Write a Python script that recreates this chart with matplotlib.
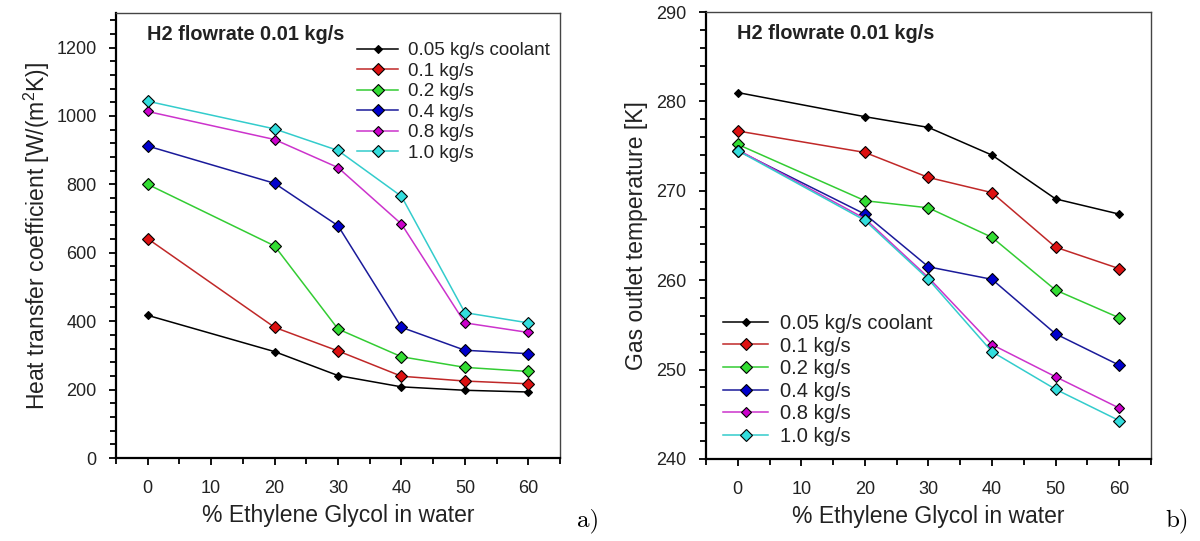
import matplotlib
matplotlib.use("Agg")
import matplotlib.pyplot as plt
from matplotlib.ticker import MultipleLocator

plt.rcParams["font.family"] = "Liberation Sans"
plt.rcParams["mathtext.fontset"] = "custom"
plt.rcParams["mathtext.rm"] = "Liberation Sans"
plt.rcParams["mathtext.it"] = "Liberation Sans:italic"
plt.rcParams["mathtext.bf"] = "Liberation Sans:bold"

# % ethylene glycol in the coolant
glycol = [0, 20, 30, 40, 50, 60]

flow_labels = ["0.05 kg/s coolant", "0.1 kg/s", "0.2 kg/s", "0.4 kg/s", "0.8 kg/s", "1.0 kg/s"]

# heat transfer coefficient, W/(m2 K)
htc_005 = [417, 311, 241, 208, 198, 193]
htc_01 = [641, 382, 313, 239, 225, 217]
htc_02 = [800, 620, 377, 296, 265, 253]
htc_04 = [912, 803, 679, 382, 315, 305]
htc_08 = [1013, 931, 849, 684, 395, 367]
htc_10 = [1043, 962, 899, 765, 425, 395]

# gas outlet temperature, K
tout_005 = [281.0, 278.3, 277.1, 274.0, 269.1, 267.4]
tout_01 = [276.7, 274.3, 271.5, 269.8, 263.7, 261.3]
tout_02 = [275.2, 268.9, 268.1, 264.8, 258.9, 255.8]
tout_04 = [274.5, 267.4, 261.5, 260.1, 254.0, 250.5]
tout_08 = [274.6, 266.9, 260.3, 252.8, 249.2, 245.7]
tout_10 = [274.5, 266.7, 260.1, 252.0, 247.8, 244.3]

line_colors = ["#000000", "#c02828", "#33cc33", "#1a1a9a", "#cc33cc", "#33cccc"]
fill_colors = ["#000000", "#dd1111", "#33dd33", "#0000cc", "#cc00cc", "#33dddd"]
marker_sizes = [4.5, 6.5, 6.5, 6.5, 5.5, 6.5]

TEXT = "#222222"


def style_axes(ax, major, minor):
    ax.set_xlim(-5, 65)
    ax.xaxis.set_major_locator(MultipleLocator(10))
    ax.xaxis.set_minor_locator(MultipleLocator(5))
    ax.yaxis.set_major_locator(MultipleLocator(major))
    ax.yaxis.set_minor_locator(MultipleLocator(minor))
    ax.tick_params(which="both", direction="out", top=False, right=False,
                   labelsize=13, labelcolor=TEXT, width=1.3)
    ax.tick_params(which="major", length=5)
    ax.tick_params(which="minor", length=4)
    ax.tick_params(axis="x", which="major", pad=11)
    ax.tick_params(axis="y", which="major", pad=9)
    for side in ["left", "bottom"]:
        ax.spines[side].set_linewidth(1.6)
    for side in ["top", "right"]:
        ax.spines[side].set_linewidth(1.0)
        ax.spines[side].set_color("#444444")
    ax.set_xlabel("% Ethylene Glycol in water", fontsize=16.5, color=TEXT, labelpad=5)


def draw_series(ax, series):
    for vals, lab, lc, fc, ms in zip(series, flow_labels, line_colors, fill_colors, marker_sizes):
        ax.plot(glycol, vals, color=lc, lw=1.1, marker="D", ms=ms,
                markerfacecolor=fc, markeredgecolor="black", markeredgewidth=0.8,
                label=lab)


fig = plt.figure(figsize=(12, 5.41), dpi=100)
ax1 = fig.add_axes([0.0967, 0.1534, 0.370, 0.822])
ax2 = fig.add_axes([0.5883, 0.1516, 0.3708, 0.826])

# a) heat transfer coefficient
draw_series(ax1, [htc_005, htc_01, htc_02, htc_04, htc_08, htc_10])
ax1.set_ylim(0, 1300)
style_axes(ax1, 200, 40)
ax1.set_ylabel("Heat transfer coefficient [W/(m$^{2}$K)]", fontsize=16.5, color=TEXT, labelpad=3)
ax1.text(0.07, 0.952, "H2 flowrate 0.01 kg/s", transform=ax1.transAxes,
         fontsize=14.3, fontweight="bold", color=TEXT, va="center")
ax1.legend(loc="upper left", bbox_to_anchor=(0.543, 0.935), frameon=False, fontsize=13.5,
           handlelength=2.2, handletextpad=0.5, labelspacing=0.18, borderaxespad=0,
           borderpad=0, labelcolor=TEXT)

# b) gas outlet temperature
draw_series(ax2, [tout_005, tout_01, tout_02, tout_04, tout_08, tout_10])
ax2.set_ylim(240, 290)
style_axes(ax2, 10, 2)
ax2.set_ylabel("Gas outlet temperature [K]", fontsize=16.5, color=TEXT, labelpad=6)
ax2.text(0.07, 0.952, "H2 flowrate 0.01 kg/s", transform=ax2.transAxes,
         fontsize=14.3, fontweight="bold", color=TEXT, va="center")
ax2.legend(loc="lower left", bbox_to_anchor=(0.038, 0.029), frameon=False, fontsize=14.5,
           handlelength=2.25, handletextpad=0.6, labelspacing=0.18, borderaxespad=0,
           borderpad=0, labelcolor=TEXT)

fig.text(0.481, 0.037, "a)", fontsize=18, family="cmr10", color="black", va="center")
fig.text(0.971, 0.037, "b)", fontsize=18, family="cmr10", color="black", va="center")

fig.savefig("out.png", dpi=100, facecolor="white")
